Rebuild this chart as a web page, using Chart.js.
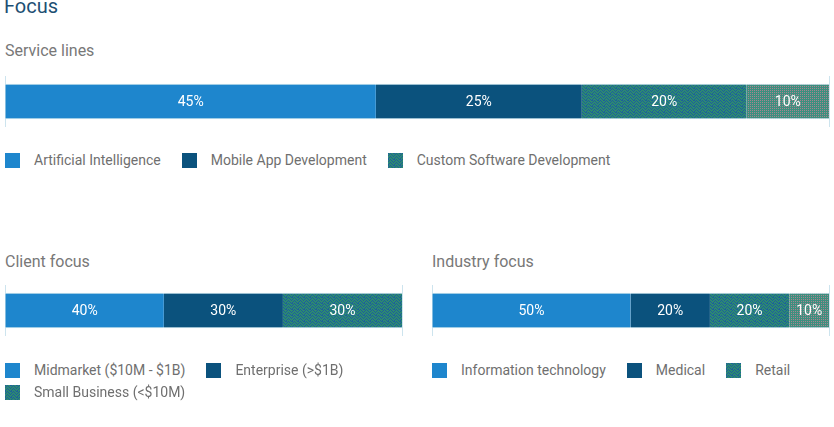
<!DOCTYPE html>
<html>
<head>
<meta charset="utf-8">
<script src="https://cdn.jsdelivr.net/npm/chart.js@4"></script>
<style>
  html, body { margin: 0; padding: 0; background: #fff; width: 834px; height: 427px; overflow: hidden; font-family: Roboto, "Noto Sans", sans-serif; }
  .abs { position: absolute; }
  .h1 { font-size: 20px; color: #1d4f73; left: 4px; top: -6px; line-height: 24px; }
  .h2 { font-size: 16px; color: #787878; line-height: 20px; }
  .legend { display: flex; flex-wrap: wrap; column-gap: 21px; row-gap: 7px; font-size: 14px; color: #6f6f6f; line-height: 15px; }
  .item { display: flex; align-items: center; }
  .item canvas { width: 15px; height: 15px; margin-right: 14px; display: block; }
  .wrap { position: absolute; }
</style>
</head>
<body>
<div class="abs h1">Focus</div>
<div class="abs h2" style="left:5px;top:41px;">Service lines</div>
<div class="wrap" style="left:4px;top:76px;width:826px;height:51px;"><canvas id="c1"></canvas></div>
<div class="abs legend" id="l1" style="left:5px;top:153px;width:825px;"></div>

<div class="abs h2" style="left:5px;top:252px;">Client focus</div>
<div class="wrap" style="left:4px;top:285px;width:399px;height:51px;"><canvas id="c2"></canvas></div>
<div class="abs legend" id="l2" style="left:5px;top:363px;width:400px;"></div>

<div class="abs h2" style="left:432px;top:252px;">Industry focus</div>
<div class="wrap" style="left:431px;top:285px;width:399px;height:51px;"><canvas id="c3"></canvas></div>
<div class="abs legend" id="l3" style="left:432px;top:363px;width:400px;"></div>

<script>
// ---- data ----
const serviceLabels = ["Artificial Intelligence", "Mobile App Development", "Custom Software Development", "Other"];
const serviceValues = [45, 25, 20, 10];
const serviceLegendCount = 3;

const clientLabels = ["Midmarket ($10M - $1B)", "Enterprise (>$1B)", "Small Business (<$10M)"];
const clientValues = [40, 30, 30];
const clientLegendCount = 3;

const industryLabels = ["Information technology", "Medical", "Retail", "Other"];
const industryValues = [50, 20, 20, 10];
const industryLegendCount = 3;

// ---- styles ----
function makePatternCanvas(kind) {
  const c = document.createElement('canvas');
  if (kind === 'teal') {
    c.width = 6; c.height = 6;
    const g = c.getContext('2d');
    g.fillStyle = '#2d8a70'; g.fillRect(0, 0, 6, 6);
    g.fillStyle = '#1c5f9c';
    const dots = [[0,0],[2,0],[5,0],[1,1],[3,1],[4,2],[0,2],[2,3],[5,3],[1,4],[3,4],[0,5],[4,5]];
    dots.forEach(([x, y]) => g.fillRect(x, y, 1, 1));
  } else {
    c.width = 2; c.height = 2;
    const g = c.getContext('2d');
    g.fillStyle = '#3d8f7f'; g.fillRect(0, 0, 2, 2);
    g.fillStyle = '#a68690'; g.fillRect(0, 0, 1, 1);
  }
  return c;
}
const tealPat = makePatternCanvas('teal');
const pinkPat = makePatternCanvas('pink');
function fills(ctx) {
  return ['#1e86cd', '#0b527d', ctx.createPattern(tealPat, 'repeat'), ctx.createPattern(pinkPat, 'repeat')];
}

const labelPlugin = {
  id: 'segLabels',
  afterDatasetsDraw(chart) {
    const ctx = chart.ctx;
    ctx.save();
    ctx.font = '400 14px Roboto, sans-serif';
    ctx.fillStyle = '#ffffff';
    ctx.textAlign = 'center';
    ctx.textBaseline = 'middle';
    chart.data.datasets.forEach((ds, i) => {
      const meta = chart.getDatasetMeta(i);
      meta.data.forEach((el, j) => {
        const cx = (el.x + el.base) / 2;
        ctx.fillText(ds.data[j] + '%', cx, el.y + 1);
      });
    });
    ctx.restore();
  }
};

function makeChart(id, labels, values) {
  const canvas = document.getElementById(id);
  const ctx = canvas.getContext('2d');
  const f = fills(ctx);
  return new Chart(canvas, {
    type: 'bar',
    data: {
      labels: [''],
      datasets: labels.map((l, i) => ({
        label: l,
        data: [values[i]],
        backgroundColor: f[i],
        borderColor: '#cde4ee',
        borderWidth: { top: 1, bottom: 1, left: 0, right: 0 },
        borderSkipped: false,
        barThickness: 35
      }))
    },
    options: {
      indexAxis: 'y',
      responsive: true,
      maintainAspectRatio: false,
      animation: false,
      layout: { padding: { left: 1, right: 1, top: 0, bottom: 0 } },
      plugins: { legend: { display: false }, tooltip: { enabled: false } },
      scales: {
        x: {
          stacked: true, min: 0, max: 100,
          ticks: { display: false, stepSize: 100 },
          grid: { color: '#cde4ee', drawTicks: false },
          border: { display: false },
          afterFit: s => { s.height = 0; }
        },
        y: { stacked: true, display: false }
      }
    },
    plugins: [labelPlugin]
  });
}

function makeLegend(id, labels, count) {
  const el = document.getElementById(id);
  const cols = ['#1e86cd', '#0b527d', null];
  for (let i = 0; i < count; i++) {
    const item = document.createElement('div');
    item.className = 'item';
    const sw = document.createElement('canvas');
    sw.width = 15; sw.height = 15;
    const g = sw.getContext('2d');
    g.fillStyle = cols[i] || g.createPattern(tealPat, 'repeat');
    g.fillRect(0, 0, 15, 15);
    const t = document.createElement('span');
    t.textContent = labels[i];
    item.appendChild(sw); item.appendChild(t);
    el.appendChild(item);
  }
}

makeChart('c1', serviceLabels, serviceValues);
makeChart('c2', clientLabels, clientValues);
makeChart('c3', industryLabels, industryValues);
makeLegend('l1', serviceLabels, serviceLegendCount);
makeLegend('l2', clientLabels, clientLegendCount);
makeLegend('l3', industryLabels, industryLegendCount);
</script>
</body>
</html>
